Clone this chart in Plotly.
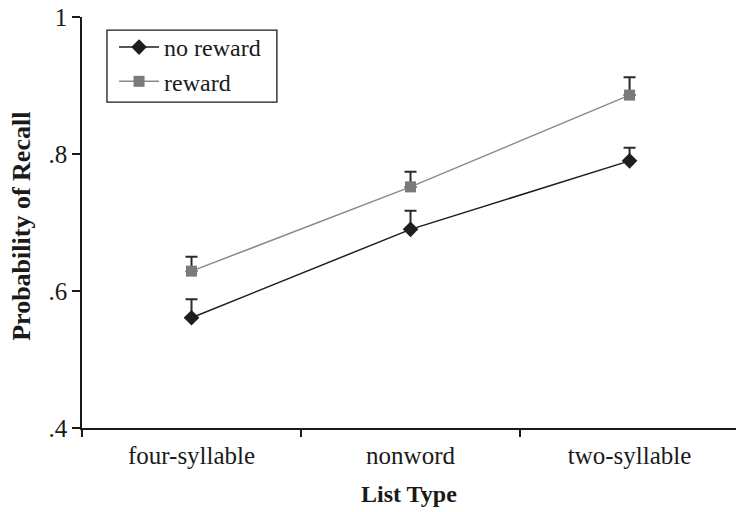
import plotly.graph_objects as go

# Recall probability by list type, with and without reward
list_types = ["four-syllable", "nonword", "two-syllable"]
no_reward = [0.561, 0.690, 0.790]
no_reward_err = [0.027, 0.027, 0.019]
reward = [0.629, 0.752, 0.886]
reward_err = [0.021, 0.022, 0.026]
y_ticks = [0.4, 0.6, 0.8, 1.0]
y_tick_text = [".4", ".6", ".8", "1"]

FONT = "Liberation Serif, Times New Roman, serif"
INK = "#1a1a1a"

fig = go.Figure()
fig.add_trace(go.Scatter(
    x=list_types, y=no_reward, name="no reward", mode="lines+markers",
    line=dict(color="#1e1e1e", width=1.5),
    marker=dict(symbol="diamond", size=12, color="#1e1e1e"),
    error_y=dict(type="data", array=no_reward_err, symmetric=False,
                 arrayminus=[0, 0, 0], color="#2a2a2a", thickness=2, width=6),
))
fig.add_trace(go.Scatter(
    x=list_types, y=reward, name="reward", mode="lines+markers",
    line=dict(color="#8a8a8a", width=1.5),
    marker=dict(symbol="square", size=11, color="#7a7a7a"),
    error_y=dict(type="data", array=reward_err, symmetric=False,
                 arrayminus=[0, 0, 0], color="#2a2a2a", thickness=2, width=6),
))

fig.update_layout(
    width=736, height=512,
    margin=dict(l=82, r=0, t=17, b=84),
    paper_bgcolor="white", plot_bgcolor="white",
    font=dict(family=FONT, size=25, color=INK),
    showlegend=True,
    legend=dict(x=0.049, y=0.9805, xanchor="left", yanchor="top",
                borderwidth=0, bgcolor="rgba(0,0,0,0)",
                font=dict(family=FONT, size=24, color=INK),
                tracegroupgap=0, itemwidth=40),
    # legend frame
    shapes=[dict(type="rect", xref="paper", yref="paper",
                 x0=0.0382, x1=0.298, y0=0.793, y1=0.968,
                 line=dict(color=INK, width=1.3), fillcolor="rgba(0,0,0,0)")],
    xaxis=dict(
        type="category", range=[-0.5, 2.486], showgrid=False, zeroline=False,
        showline=True, linecolor=INK, linewidth=1.5,
        ticks="outside", tickson="boundaries", ticklen=7, tickwidth=1.5,
        tickcolor=INK, ticklabelstandoff=4,
        tickfont=dict(family=FONT, size=25, color=INK),
    ),
    yaxis=dict(
        range=[0.4, 1.0], tickvals=y_ticks, ticktext=y_tick_text,
        showgrid=False, zeroline=False, showline=True,
        linecolor=INK, linewidth=1.5,
        ticks="outside", ticklen=8, tickwidth=1.5, tickcolor=INK,
        tickfont=dict(family=FONT, size=25, color=INK),
    ),
    annotations=[
        dict(text="<b>List Type</b>", x=0.5, y=-0.16, xref="paper", yref="paper",
             xanchor="center", yanchor="middle", showarrow=False,
             font=dict(family=FONT, size=24, color=INK)),
        dict(text="<b>Probability of Recall</b>", x=-0.093, y=0.49, xref="paper",
             yref="paper", xanchor="center", yanchor="middle", showarrow=False,
             textangle=-90, font=dict(family=FONT, size=26, color=INK)),
    ],
)

fig.write_html("out.html")
